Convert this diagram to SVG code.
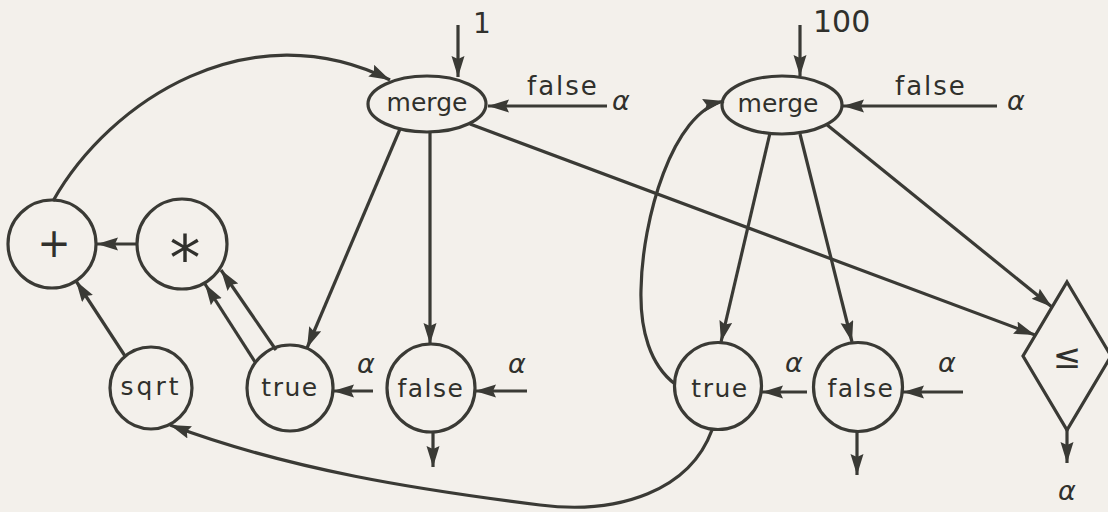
<svg xmlns="http://www.w3.org/2000/svg" width="1108" height="512" viewBox="0 0 1108 512">
<defs>
<marker id="ah" markerUnits="userSpaceOnUse" markerWidth="24" markerHeight="14" refX="21" refY="6.5" orient="auto">
<path d="M0,0 L21,6.5 L0,13 L3,6.5 z" fill="#3a3a35"/>
</marker>
<style>
.n{fill:none;stroke:#3a3a35;stroke-width:3.2}
.c{fill:none;stroke:#3a3a35;stroke-width:3.2;marker-end:url(#ah)}
.t{font-family:"DejaVu Sans",sans-serif;font-size:25px;fill:#30302c;text-anchor:middle}
.l{font-family:"DejaVu Sans",sans-serif;font-size:26px;fill:#30302c;letter-spacing:2px}
.a{font-family:"DejaVu Sans",sans-serif;font-size:27px;font-style:italic;fill:#30302c}
</style>
</defs>
<rect width="1108" height="512" fill="#f3f0eb"/>
<g id="connectors">
<path class="c" d="M53 201 C110 100,250 10,390 80"/>
<line class="c" x1="137" y1="244" x2="97" y2="244"/>
<line class="c" x1="125" y1="356" x2="76" y2="281"/>
<line class="c" x1="255" y1="362" x2="205" y2="284"/>
<line class="c" x1="276" y1="350" x2="221" y2="270"/>
<line class="c" x1="400" y1="129" x2="307" y2="348"/>
<line class="c" x1="430" y1="132" x2="430" y2="344"/>
<line class="c" x1="470" y1="124" x2="1035" y2="335"/>
<line class="c" x1="373" y1="391" x2="333" y2="391"/>
<line class="c" x1="527" y1="391" x2="475" y2="391"/>
<line class="c" x1="433" y1="432" x2="433" y2="467"/>
<line class="c" x1="458" y1="25" x2="458" y2="77"/>
<line class="c" x1="607" y1="106" x2="488" y2="106"/>
<line class="c" x1="800" y1="25" x2="800" y2="76"/>
<line class="c" x1="997" y1="106" x2="843" y2="106"/>
<line class="c" x1="770" y1="133" x2="721" y2="342"/>
<line class="c" x1="800" y1="134" x2="852" y2="342"/>
<line class="c" x1="826" y1="124" x2="1052" y2="307"/>
<path class="c" d="M675 384 C650 365,640 330,641 290 C642 220,672 112,724 101"/>
<path class="c" d="M712 430 C690 490,620 515,540 505 C420 490,290 470,170 425"/>
<line class="c" x1="807" y1="392" x2="762" y2="392"/>
<line class="c" x1="963" y1="392" x2="903" y2="392"/>
<line class="c" x1="857" y1="432" x2="857" y2="475"/>
<line class="c" x1="1067" y1="430" x2="1067" y2="463"/>
</g>
<g id="labels">
<text class="l" x="473" y="33" style="font-size:28px;letter-spacing:0">1</text>
<text class="l" x="813" y="32" style="font-size:30px;letter-spacing:0">100</text>
<text class="l" x="527" y="95">false</text>
<text class="a" x="612" y="110">α</text>
<text class="l" x="895" y="95">false</text>
<text class="a" x="1007" y="110">α</text>
<text class="a" x="357" y="373">α</text>
<text class="a" x="508" y="373">α</text>
<text class="a" x="785" y="372">α</text>
<text class="a" x="938" y="372">α</text>
<text class="a" x="1058" y="500">α</text>
</g>
<g id="merge1"><ellipse class="n" cx="427" cy="104" rx="59" ry="28"/><text class="t" x="427" y="111">merge</text></g>
<g id="merge2"><ellipse class="n" cx="782" cy="105" rx="60" ry="29"/><text class="t" x="778" y="112">merge</text></g>
<g id="plus"><circle class="n" cx="52" cy="244" r="44"/><text class="t" x="54" y="257" style="font-size:40px">+</text></g>
<g id="times"><circle class="n" cx="182" cy="244" r="45"/><text class="t" x="185" y="280" style="font-size:62px">*</text></g>
<g id="sqrt"><circle class="n" cx="151" cy="388" r="41"/><text class="t" x="151" y="395" style="letter-spacing:3px">sqrt</text></g>
<g id="true1"><circle class="n" cx="290" cy="388" r="43"/><text class="t" x="290" y="396" style="letter-spacing:1.5px">true</text></g>
<g id="false1"><circle class="n" cx="431" cy="388" r="44"/><text class="t" x="431" y="397" style="letter-spacing:1.5px">false</text></g>
<g id="true2"><circle class="n" cx="718" cy="386" r="43.5"/><text class="t" x="720" y="397" style="letter-spacing:1.5px">true</text></g>
<g id="false2"><circle class="n" cx="858" cy="387" r="44.5"/><text class="t" x="861" y="397" style="letter-spacing:1.5px">false</text></g>
<g id="cmp"><polygon class="n" points="1067,282 1111,356 1067,430 1023,356"/><text class="t" x="1067" y="368" style="font-size:34px">≤</text></g>
</svg>
